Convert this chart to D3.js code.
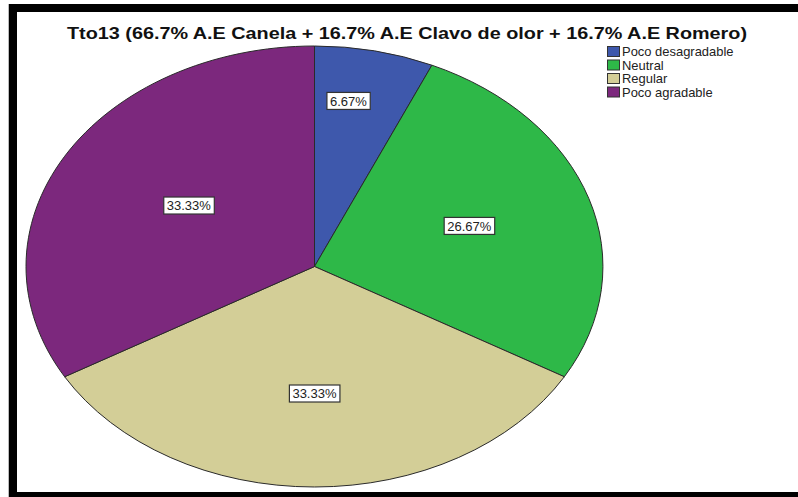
<!DOCTYPE html>
<html>
<head>
<meta charset="utf-8">
<script src="https://cdn.jsdelivr.net/npm/d3@7"></script>
<style>
  html, body { margin: 0; padding: 0; background: #fff; }
  svg { display: block; font-family: "Liberation Sans", Arial, sans-serif; }
</style>
</head>
<body>
<svg id="chart" width="798" height="497"></svg>
<script>
// Response categories and their share (%) of evaluations
const categories = ["Poco desagradable", "Neutral", "Regular", "Poco agradable"];
const percentages = [6.67, 26.67, 33.33, 33.33];
const colors = ["#3E58AC", "#2EB848", "#D3CE97", "#7C287D"];
const title = "Tto13 (66.7% A.E Canela + 16.7% A.E Clavo de olor + 16.7% A.E Romero)";

const W = 798, H = 497;
const svg = d3.select("#chart");

// Outer frame (top, left and bottom bands)
svg.append("rect").attr("x", 8).attr("y", 4).attr("width", 1).attr("height", H - 4).attr("fill", "#bbb");
svg.append("rect").attr("x", 9).attr("y", 4).attr("width", W - 9).attr("height", 8).attr("fill", "#000");
svg.append("rect").attr("x", 9).attr("y", 4).attr("width", 8).attr("height", H - 4).attr("fill", "#000");
svg.append("rect").attr("x", 9).attr("y", 492).attr("width", W - 9).attr("height", 5).attr("fill", "#000");

// Title
svg.append("text")
  .attr("x", 407).attr("y", 39)
  .attr("text-anchor", "middle")
  .attr("font-size", 16.5).attr("font-weight", "bold")
  .attr("fill", "#111")
  .attr("textLength", 680).attr("lengthAdjust", "spacingAndGlyphs")
  .text(title);

// Pie, drawn on a unit circle and stretched into an ellipse
const cx = 314.5, cy = 266.5, rx = 288.5, ry = 220.5;
const pie = d3.pie().sort(null).value(d => d)(percentages);
const arc = d3.arc().innerRadius(0).outerRadius(1);

const pieG = svg.append("g").attr("transform", `translate(${cx},${cy}) scale(${rx},${ry})`);
pieG.selectAll("path")
  .data(pie)
  .join("path")
  .attr("d", arc)
  .attr("fill", (d, i) => colors[i])
  .attr("stroke", "#2a2a2a")
  .attr("stroke-width", 1)
  .attr("vector-effect", "non-scaling-stroke");

// Value labels: position along each slice and distance from the centre
const labelLayout = [
  { along: 0.37, r: 0.76 },
  { along: 0.49, r: 0.567 },
  { along: 0.50, r: 0.576 },
  { along: 0.52, r: 0.516 }
];
const fmt = d3.format(".2f");
pie.forEach((d, i) => {
  const lay = labelLayout[i];
  const a = d.startAngle + (d.endAngle - d.startAngle) * lay.along;
  const x = cx + rx * lay.r * Math.sin(a);
  const y = cy - ry * lay.r * Math.cos(a);
  const g = svg.append("g").attr("transform", `translate(${x},${y})`);
  const rect = g.append("rect");
  const t = g.append("text")
    .attr("text-anchor", "middle")
    .attr("dy", "0.36em")
    .attr("font-size", 13)
    .attr("fill", "#222")
    .text(fmt(d.data) + "%");
  const bb = t.node().getBBox();
  rect.attr("x", bb.x - 3).attr("y", -8.5)
    .attr("width", bb.width + 6).attr("height", 17)
    .attr("fill", "#fff").attr("stroke", "#333").attr("stroke-width", 1.2);
});

// Legend
const legend = svg.append("g").attr("transform", "translate(607,46)");
const rowH = 13.5;
categories.forEach((c, i) => {
  const row = legend.append("g").attr("transform", `translate(0,${i * rowH})`);
  row.append("rect")
    .attr("x", 0.5).attr("y", 0.5).attr("width", 12).attr("height", 10)
    .attr("fill", colors[i]).attr("stroke", "#333").attr("stroke-width", 1);
  row.append("text")
    .attr("transform", "translate(15,10) scale(1.08,1)")
    .attr("font-size", 12)
    .attr("fill", "#222")
    .text(c);
});
</script>
</body>
</html>
